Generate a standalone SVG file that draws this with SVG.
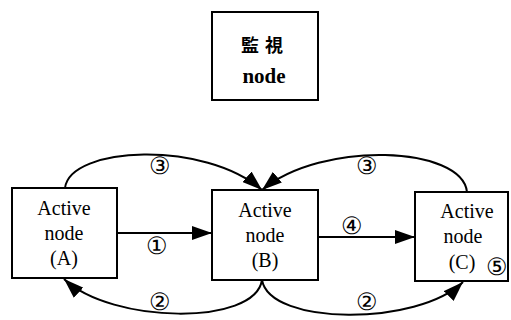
<svg xmlns="http://www.w3.org/2000/svg" width="511" height="320" viewBox="0 0 511 320">
  <style>
    .box { fill: #fff; stroke: #000; stroke-width: 2; }
    .edge { fill: none; stroke: #000; stroke-width: 2; }
  </style>
  <defs>
    <marker id="arrow" viewBox="0 0 20 14" refX="20" refY="7" markerWidth="20" markerHeight="14" markerUnits="userSpaceOnUse" orient="auto">
      <path d="M0,0 L20,7 L0,14 Z" fill="#000"/>
    </marker>
  </defs>
  <rect width="511" height="320" fill="#fff"/>

  <!-- monitor node -->
  <g id="monitor">
    <rect class="box" x="212" y="12" width="106" height="88"/>
    <text y="52" font-family="Noto Sans CJK JP" font-size="18" font-weight="bold" text-anchor="middle" fill="#000"><tspan x="250">監</tspan><tspan x="274">視</tspan></text>
    <text x="264" y="83" font-family="Liberation Serif" font-size="21" font-weight="bold" text-anchor="middle" fill="#000">node</text>
  </g>

  <!-- active nodes -->
  <g id="nodeA">
    <rect class="box" x="12" y="188" width="105" height="90"/>
    <g font-family="Liberation Serif" font-size="20" text-anchor="middle" fill="#000">
      <text x="64" y="215">Active</text>
      <text x="64" y="240">node</text>
      <text x="64" y="265">(A)</text>
    </g>
  </g>
  <g id="nodeB">
    <rect class="box" x="212" y="190" width="106" height="90"/>
    <g font-family="Liberation Serif" font-size="20" text-anchor="middle" fill="#000">
      <text x="265" y="217">Active</text>
      <text x="265" y="242">node</text>
      <text x="265" y="267">(B)</text>
    </g>
  </g>
  <g id="nodeC">
    <rect class="box" x="415" y="192" width="93" height="89"/>
    <g font-family="Liberation Serif" font-size="20" text-anchor="middle" fill="#000">
      <text x="467" y="218">Active</text>
      <text x="463" y="243">node</text>
      <text x="462" y="269">(C)</text>
    </g>
    <text x="497" y="275" font-family="Liberation Serif" font-size="24" text-anchor="middle" fill="#000">⑤</text>
  </g>

  <!-- connectors -->
  <g id="connectors">
    <path class="edge" d="M117,233 L212,233" marker-end="url(#arrow)"/>
    <path class="edge" d="M318,237 L415,237" marker-end="url(#arrow)"/>
    <path class="edge" d="M65,188 C70,146 205,140 262,190" marker-end="url(#arrow)"/>
    <path class="edge" d="M467,192 C462,146 322,140 262,190" marker-end="url(#arrow)"/>
    <path class="edge" d="M262,280 C255,326 112,324 64,279" marker-end="url(#arrow)"/>
    <path class="edge" d="M262,280 C270,326 418,326 463,282" marker-end="url(#arrow)"/>
  </g>

  <!-- step labels -->
  <g id="steps" font-family="Liberation Serif" font-size="24" text-anchor="middle" fill="#000">
    <text x="157" y="254">①</text>
    <text x="160" y="310">②</text>
    <text x="367" y="310">②</text>
    <text x="160" y="174">③</text>
    <text x="367" y="174">③</text>
    <text x="352" y="234">④</text>
  </g>
</svg>
